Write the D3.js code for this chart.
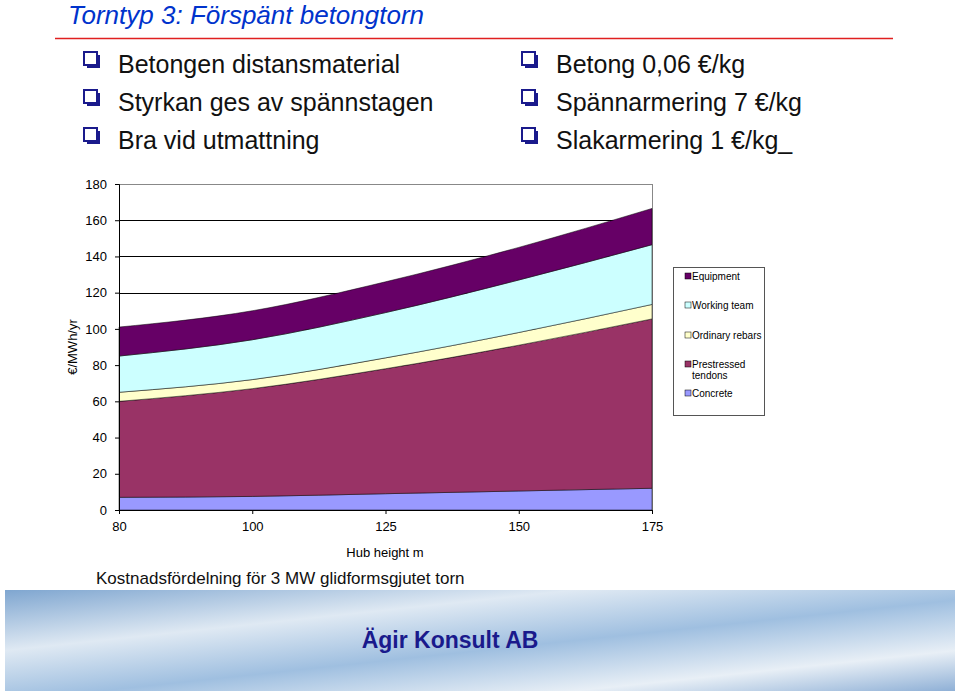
<!DOCTYPE html><html><head><meta charset="utf-8"><script src="https://cdn.jsdelivr.net/npm/d3@7"></script>
<style>body{margin:0;background:#fff}svg{display:block}</style></head><body><svg id="c" width="960" height="691"></svg>
<script>
const heights=["80","100","125","150","175"];
const seriesNames=["Concrete","Prestressed tendons","Ordinary rebars","Working team","Equipment"];
const concrete=[7,7.5,9,10.5,12];
const tendons=[53,59.5,69,80.5,93.5];
const rebars=[5,5,6,7,8];
const working=[20,22,25,29,33];
const equipment=[16,16,17,18,20];
const yTicks=[0,20,40,60,80,100,120,140,160,180];
const colors=["#9999ff","#993366","#ffffcc","#ccffff","#660066"];
const bulletsL=["Betongen distansmaterial","Styrkan ges av spännstagen","Bra vid utmattning"];
const bulletsR=["Betong 0,06 €/kg","Spännarmering 7 €/kg","Slakarmering 1 €/kg_"];

const svg=d3.select("#c");
const defs=svg.append("defs");
const g=defs.append("linearGradient").attr("id","sky").attr("x1",0).attr("x2",1).attr("y1",0).attr("y2",1);
[["0%","#7fa6d0"],["30%","#dfe9f3"],["55%","#9fbfe0"],["80%","#e8eff6"],["100%","#8fb0d6"]].forEach(s=>g.append("stop").attr("offset",s[0]).attr("stop-color",s[1]));
svg.append("rect").attr("x",5).attr("y",590).attr("width",950).attr("height",101).attr("fill","url(#sky)");
svg.append("text").attr("x",450).attr("y",648).attr("text-anchor","middle").attr("font-family","Liberation Sans").attr("font-weight","bold").attr("font-size",23).attr("fill","#1a1a8c").text("Ägir Konsult AB");

svg.append("text").attr("x",68).attr("y",24).attr("font-family","Liberation Sans").attr("font-style","italic").attr("font-size",26).attr("fill","#0033cc").text("Torntyp 3: Förspänt betongtorn");
svg.append("line").attr("x1",55).attr("x2",893).attr("y1",38.5).attr("y2",38.5).attr("stroke","#e02020").attr("stroke-width",1.5);
function bullets(arr,x){arr.forEach((t,i)=>{const y=65+i*38;
 svg.append("rect").attr("x",x).attr("y",y-13).attr("width",13).attr("height",13).attr("fill","#fff").attr("stroke","#1a1a8c").attr("stroke-width",2);
 svg.append("rect").attr("x",x+3).attr("y",y).attr("width",12).attr("height",3).attr("fill","#1a1a8c");
 svg.append("rect").attr("x",x+13).attr("y",y-10).attr("width",3).attr("height",13).attr("fill","#1a1a8c");
 svg.append("text").attr("x",x+34).attr("y",y+8).attr("font-family","Liberation Sans").attr("font-size",25).attr("fill","#111").text(t);});}
bullets(bulletsL,84);bullets(bulletsR,522);

const x=d3.scalePoint().domain(heights).range([119,652]);
const y=d3.scaleLinear().domain([0,180]).range([510,184]);
const data=heights.map((h,i)=>({h,Concrete:concrete[i],"Prestressed tendons":tendons[i],"Ordinary rebars":rebars[i],"Working team":working[i],Equipment:equipment[i]}));
const stack=d3.stack().keys(seriesNames)(data);
svg.append("line").attr("x1",119).attr("x2",652).attr("y1",184.5).attr("y2",184.5).attr("stroke","#888");
svg.append("line").attr("x1",652.5).attr("x2",652.5).attr("y1",184).attr("y2",510).attr("stroke","#888");
svg.append("g").selectAll("line").data(yTicks.slice(1,-1)).join("line").attr("x1",119).attr("x2",652).attr("y1",d=>Math.round(y(d))+.5).attr("y2",d=>Math.round(y(d))+.5).attr("stroke","#000");
const area=d3.area().x(d=>x(d.data.h)).y0(d=>y(d[0])).y1(d=>y(d[1])).curve(d3.curveMonotoneX);
svg.append("g").selectAll("path").data(stack).join("path").attr("d",area).attr("fill",(d,i)=>colors[i]).attr("stroke","#000").attr("stroke-width",0.5);
const ya=svg.append("g").attr("transform","translate(119,0)").call(d3.axisLeft(y).tickValues(yTicks).tickSize(4).tickPadding(8));
const xa=svg.append("g").attr("transform","translate(0,510)").call(d3.axisBottom(x).tickSize(4).tickPadding(8));
[ya,xa].forEach(a=>{a.selectAll("text").attr("font-family","Liberation Sans").attr("font-size",13).attr("fill","#000");a.selectAll("path,line").attr("stroke","#000");});
svg.append("text").attr("x",385).attr("y",557).attr("text-anchor","middle").attr("font-family","Liberation Sans Narrow, Liberation Sans").attr("font-size",13).text("Hub height m");
svg.append("text").attr("transform","translate(77,347) rotate(-90)").attr("text-anchor","middle").attr("font-family","Liberation Sans").attr("font-size",13).text("€/MWh/yr");

const lg=svg.append("g");
lg.append("rect").attr("x",673.5).attr("y",267.5).attr("width",91).attr("height",148).attr("fill","#fff").attr("stroke","#555");
const order=[4,3,2,1,0];const ly=[277,306,336,365,394];
order.forEach((k,i)=>{lg.append("rect").attr("x",685).attr("y",ly[i]-4).attr("width",6).attr("height",6).attr("fill",colors[k]).attr("stroke","#000").attr("stroke-width",0.5);
 const lines=seriesNames[k]==="Prestressed tendons"?["Prestressed","tendons"]:[seriesNames[k]];
 lines.forEach((t,j)=>lg.append("text").attr("x",692).attr("y",ly[i]+3+j*11).attr("font-family","Liberation Sans Narrow, Liberation Sans").attr("font-size",10).text(t));});
svg.append("text").attr("x",96).attr("y",584).attr("font-family","Liberation Sans").attr("font-size",17).attr("fill","#111").text("Kostnadsfördelning för 3 MW glidformsgjutet torn");
</script></body></html>
